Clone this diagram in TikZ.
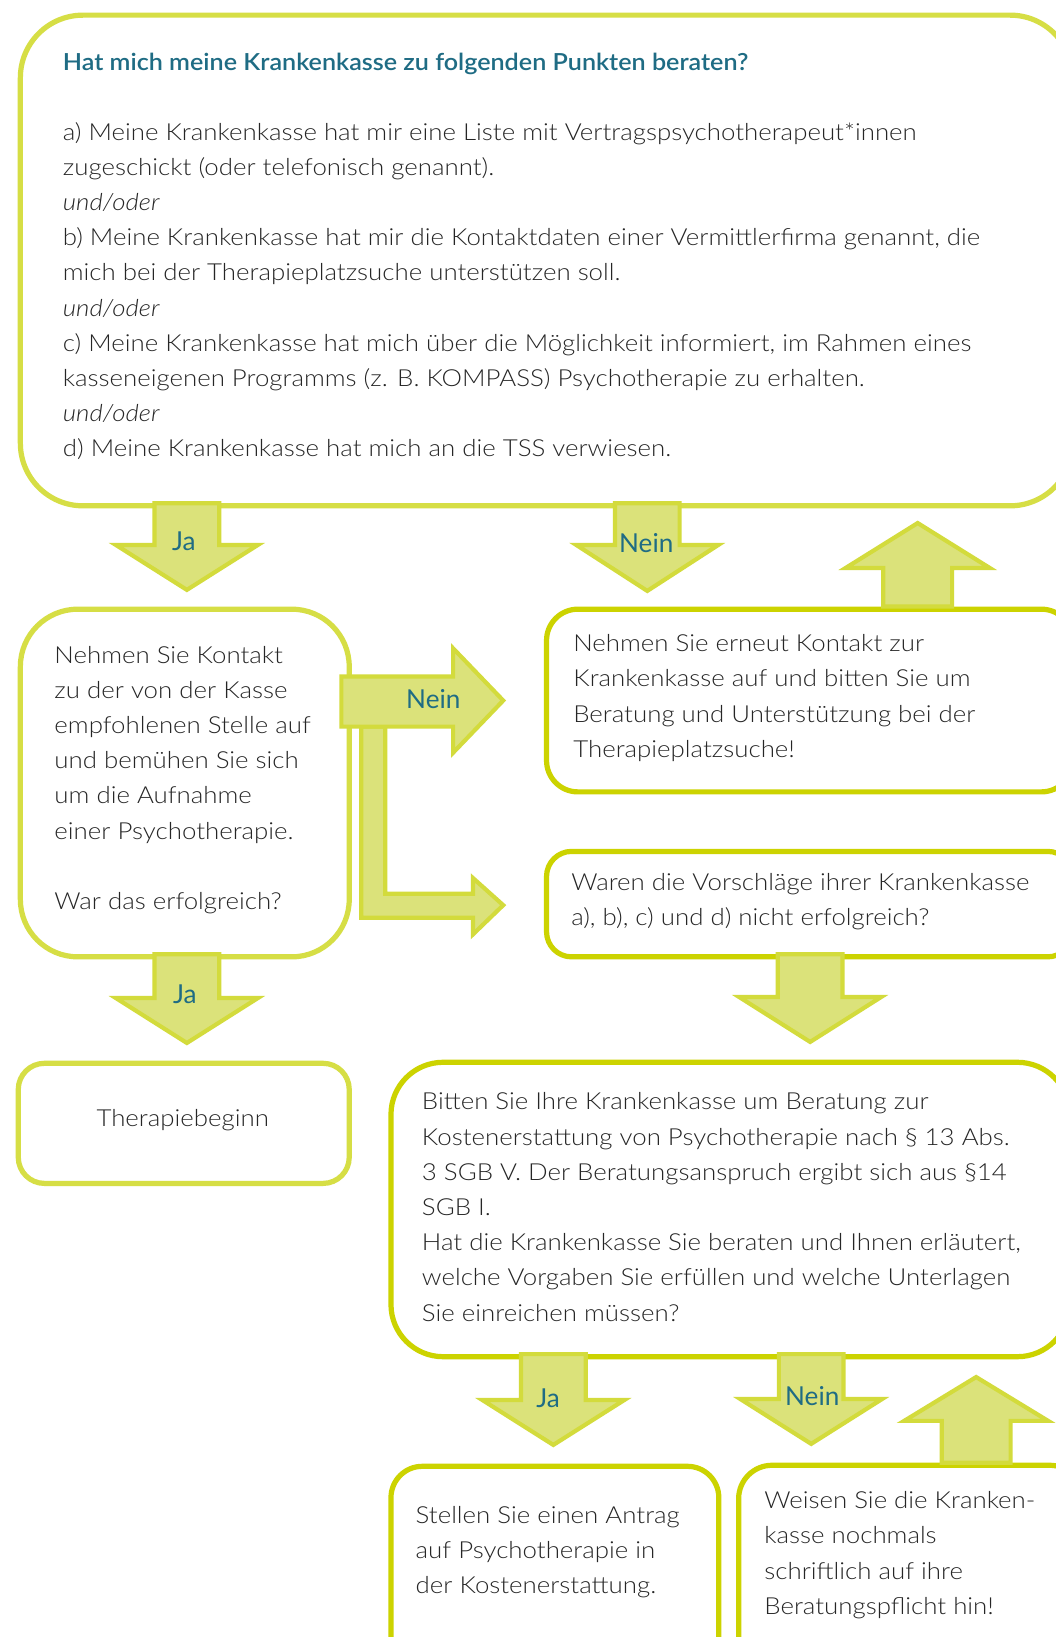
\documentclass[tikz,border=0pt]{standalone}
\usepackage{fontspec}
\IfFontExistsTF{Lato Light}{%
  \setmainfont{Lato}[FakeStretch=1.10, UprightFont=* Light, ItalicFont=* Light Italic, BoldFont=* Semibold]%
  \newfontfamily\headfont{Lato}[FakeStretch=1.07, UprightFont=* Semibold]%
}{%
  \setmainfont{Lato}[FakeStretch=1.10]%
  \newfontfamily\headfont{Lato}[FakeStretch=1.07, UprightFont=* Bold]%
}
\newfontfamily\labelfont{Lato}
\definecolor{boxA}{HTML}{D6DE45}
\definecolor{boxB}{HTML}{CCD300}
\definecolor{arrF}{HTML}{DBE27A}
\definecolor{arrS}{HTML}{D3DB3C}
\definecolor{teal}{HTML}{1F6C84}
\definecolor{txtc}{HTML}{262626}
\newcommand{\dnarrow}[5]{% name, cx, ytop, ybase, ytip
  \filldraw[blockarrow] (#2-31,#3) -- (#2+31,#3) -- (#2+31,#4) -- (#2+68,#4) -- (#2,#5) -- (#2-68,#4) -- (#2-31,#4) -- cycle;
  \coordinate (#1) at (#2,#4);}
\newcommand{\uparrowblk}[5]{% name, cx, ybottom, ybase, ytip
  \filldraw[blockarrow] (#2-33,#3) -- (#2+33,#3) -- (#2+33,#4) -- (#2+69,#4) -- (#2,#5) -- (#2-69,#4) -- (#2-33,#4) -- cycle;
  \coordinate (#1) at (#2,#4);}
\begin{document}
\begin{tikzpicture}[x=1pt,y=-1pt,
  lightbox/.style={draw=boxA, line width=5pt, fill=white, inner sep=0pt, anchor=north west},
  strongbox/.style={draw=boxB, line width=5pt, fill=white, inner sep=0pt, anchor=north west},
  blockarrow/.style={fill=arrF, draw=arrS, line width=4pt, line join=miter},
  body/.style={font={\fontsize{22.5}{33.7}\selectfont}, text=txtc, inner sep=0pt, align=left, anchor=north west},
  head/.style={font={\headfont\fontsize{22.5}{33.7}\selectfont}, text=teal, inner sep=0pt, anchor=base west},
  lbl/.style={font={\labelfont\fontsize{25}{30}\selectfont}, text=teal, inner sep=0pt, anchor=center}]
\useasboundingbox (0,0) rectangle (1011,1568);
\fill[white] (0,0) rectangle (1011,1568);

% boxes
\node[lightbox, rounded corners=60, minimum width=1008, minimum height=470] (q1) at (17,12) {};
\node[strongbox, rounded corners=30, minimum width=504, minimum height=175] (r1) at (521,581) {};
\node[lightbox, rounded corners=55, minimum width=315, minimum height=333] (l1) at (17,581) {};
\node[strongbox, rounded corners=24, minimum width=504, minimum height=101] (r2) at (521,813) {};
\node[lightbox, rounded corners=25, minimum width=317, minimum height=115] (tb) at (15,1016) {};
\node[strongbox, rounded corners=50, minimum width=650, minimum height=282] (q2) at (372,1015) {};
\node[strongbox, rounded corners=30, minimum width=314, minimum height=220] (st) at (372,1402) {};
\node[strongbox, rounded corners=32, minimum width=330, minimum height=220] (ws) at (705,1401) {};

% arrows
\dnarrow{a1}{179}{482}{522}{565}
\dnarrow{a2}{620}{482}{522}{566}
\uparrowblk{a3}{879}{581}{544}{501}
\dnarrow{a4}{179}{914}{956}{999}
\dnarrow{a5}{776}{914}{955}{998}
\dnarrow{a6}{530}{1297}{1341}{1384}
\dnarrow{a7}{777}{1297}{1340}{1383}
\uparrowblk{a8}{935}{1401}{1361}{1319}
% L-shaped arrow
\filldraw[blockarrow] (346,696) -- (346,879) -- (453,879) -- (453,895) -- (482,867) -- (453,841) -- (453,856) -- (369,856) -- (369,696) -- cycle;
% right Nein arrow
\filldraw[blockarrow] (327,648) -- (434,648) -- (434,621) -- (482,671) -- (434,721) -- (434,696) -- (327,696) -- cycle;

% labels
\node[lbl] (j1) at (176,518) {Ja};
\node[lbl] (n1) at (619,520) {Nein};
\node[lbl] (n2) at (415,670) {Nein};
\node[lbl] (j2) at (177,952) {Ja};
\node[lbl] (j3) at (525,1339) {Ja};
\node[lbl] (n3) at (778,1337) {Nein};

% texts
\node[head] (h1) at (60,67.7) {Hat mich meine Krankenkasse zu folgenden Punkten beraten?};
\node[body] (t1) at (60,110.4) {\strut a) Meine Krankenkasse hat mir eine Liste mit Vertragspsychotherapeut*innen\\
zugeschickt (oder telefonisch genannt).\\
\textit{und/oder}\\
b) Meine Krankenkasse hat mir die Kontaktdaten einer Vermittlerfirma genannt, die\\
mich bei der Therapieplatzsuche unterstützen soll.\\
\textit{und/oder}\\
c) Meine Krankenkasse hat mich über die Möglichkeit informiert, im Rahmen eines\\
kasseneigenen Programms (z. B. KOMPASS) Psychotherapie zu erhalten.\\
\textit{und/oder}\\
d) Meine Krankenkasse hat mich an die TSS verwiesen.};
\node[body] (t2) at (549,600.4) {\strut Nehmen Sie erneut Kontakt zur\\
Krankenkasse auf und bitten Sie um\\
Beratung und Unterstützung bei der\\
Therapieplatzsuche!};
\node[body] (t3) at (52,611.4) {\strut Nehmen Sie Kontakt\\
zu der von der Kasse\\
empfohlenen Stelle auf\\
und bemühen Sie sich\\
um die Aufnahme\\
einer Psychotherapie.\\
\strut\\
War das erfolgreich?};
\node[body] (t4) at (547,829.4) {\strut Waren die Vorschläge ihrer Krankenkasse\\
a), b), c) und d) nicht erfolgreich?};
\node[body, anchor=base] (t5) at (175,1079) {Therapiebeginn};
\node[body] (t6) at (404,1039.4) {\strut Bitten Sie Ihre Krankenkasse um Beratung zur\\
Kostenerstattung von Psychotherapie nach § 13 Abs.\\
3 SGB V. Der Beratungsanspruch ergibt sich aus §14\\
SGB I.\\
Hat die Krankenkasse Sie beraten und Ihnen erläutert,\\
welche Vorgaben Sie erfüllen und welche Unterlagen\\
Sie einreichen müssen?};
\node[body] (t7) at (398,1435.4) {\strut Stellen Sie einen Antrag\\
auf Psychotherapie in\\
der Kostenerstattung.};
\node[body] (t8) at (732,1421.4) {\strut Weisen Sie die Kranken-\\
kasse nochmals\\
schriftlich auf ihre\\
Beratungspflicht hin!};
\end{tikzpicture}
\end{document}
